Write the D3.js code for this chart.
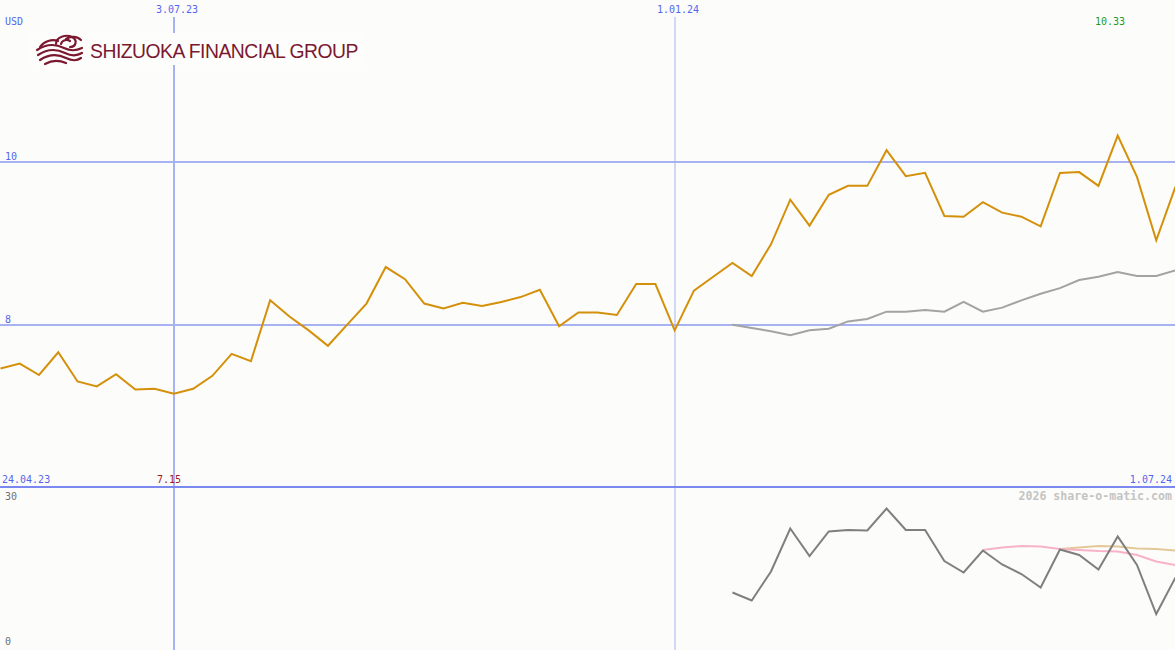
<!DOCTYPE html>
<html>
<head>
<meta charset="utf-8">
<script src="https://cdn.jsdelivr.net/npm/d3@7"></script>
<style>
html,body{margin:0;padding:0;background:#fcfdfa;}
svg{display:block;}
text.mono{font-family:"DejaVu Sans Mono",monospace;}
</style>
</head>
<body>
<svg id="c" width="1175" height="650"></svg>
<script>
// ---- data ----
const dates = [
"2023-05-01","2023-05-08","2023-05-15","2023-05-22","2023-05-29",
"2023-06-05","2023-06-12","2023-06-19","2023-06-26",
"2023-07-03","2023-07-10","2023-07-17","2023-07-24","2023-07-31",
"2023-08-07","2023-08-14","2023-08-21","2023-08-28",
"2023-09-04","2023-09-11","2023-09-18","2023-09-25",
"2023-10-02","2023-10-09","2023-10-16","2023-10-23","2023-10-30",
"2023-11-06","2023-11-13","2023-11-20","2023-11-27",
"2023-12-04","2023-12-11","2023-12-18","2023-12-25",
"2024-01-01","2024-01-08","2024-01-15","2024-01-22","2024-01-29",
"2024-02-05","2024-02-12","2024-02-19","2024-02-26",
"2024-03-04","2024-03-11","2024-03-18","2024-03-25",
"2024-04-01","2024-04-08","2024-04-15","2024-04-22","2024-04-29",
"2024-05-06","2024-05-13","2024-05-20","2024-05-27",
"2024-06-03","2024-06-10","2024-06-17","2024-06-24",
"2024-07-01"];

const price = [
7.46,7.52,7.38,7.66,7.30,7.24,7.39,7.20,7.21,7.15,
7.21,7.37,7.64,7.55,8.30,8.10,7.93,7.74,8.00,8.26,
8.71,8.56,8.26,8.20,8.27,8.23,8.28,8.34,8.43,7.98,
8.15,8.15,8.12,8.50,8.50,7.93,8.42,8.59,8.76,8.60,
8.99,9.54,9.22,9.60,9.71,9.71,10.15,9.83,9.87,9.34,
9.33,9.51,9.38,9.33,9.21,9.87,9.88,9.71,10.33,9.82,
9.04,9.70];

// moving average (starts at 2024-01-22)
const avgStart = 38;
const avg = [
8.00,7.96,7.92,7.87,7.93,7.95,8.04,8.07,8.16,8.16,
8.18,8.16,8.28,8.16,8.21,8.30,8.38,8.45,8.55,8.59,
8.65,8.60,8.60,8.67];

// lower panel indicator (starts at 2024-01-22)
const indStart = 38;
const indicator = [
11.5,9.9,15.7,24.3,18.8,23.7,24.0,23.9,28.3,24.0,
24.0,17.8,15.5,19.9,17.1,15.2,12.5,20.1,19.0,16.1,
22.7,17.0,7.2,14.5];

const pinkStart = 51;
const pinkLine = [20.0,20.5,20.8,20.7,20.2,20.0,19.8,19.7,19.0,17.7,17.0];

const tanStart = 55;
const tanLine = [20.2,20.5,20.8,20.7,20.3,20.2,19.9];

const priceTicks = [8, 10];
const indTicks = [0, 30];
const dateTicks = ["2023-07-03","2024-01-01"];
const dateTickLabels = ["3.07.23","1.01.24"];
const startLabel = "24.04.23";
const endLabel = "1.07.24";
const maxLabel = "10.33";
const minLabel = "7.15";
const currency = "USD";

// ---- drawing ----
const W = 1175, H = 650;
const svg = d3.select("#c");
const parse = d3.timeParse("%Y-%m-%d");
const dts = dates.map(parse);

const x = d3.scaleTime()
  .domain([parse("2023-05-01"), parse("2024-07-01")])
  .range([0.5, 1175.5]);
const y = d3.scaleLinear().domain([6, 12]).range([487, 0]);
const y2 = d3.scaleLinear().domain([0, 30]).range([650, 500]);

svg.append("rect").attr("width", W).attr("height", H).attr("fill", "#fcfdfa");

const blue = "#5566ee";
const gridC = "#a6b2f2";

function label(xx, yy, txt, color, anchor, size) {
  return svg.append("text").attr("class", "mono").attr("x", xx).attr("y", yy).attr("dy", "0.35em")
    .attr("text-anchor", anchor || "start").attr("fill", color).attr("font-size", size || 10).text(txt);
}

// horizontal grid lines (main)
priceTicks.forEach(t => {
  const yy = Math.round(y(t));
  svg.append("line").attr("x1", 0).attr("x2", W).attr("y1", yy).attr("y2", yy)
    .attr("stroke", gridC).attr("stroke-width", 2);
  label(5, yy - 6, t, blue);
});

// vertical date lines
dateTicks.forEach((d, i) => {
  const xx = Math.round(x(parse(d)));
  svg.append("line").attr("x1", xx).attr("x2", xx).attr("y1", 17).attr("y2", H)
    .attr("stroke", gridC).attr("stroke-width", i === 0 ? 2 : 1);
  label(xx + 3, 9.5, dateTickLabels[i], blue, "middle");
});

// separator between panels
svg.append("line").attr("x1", 0).attr("x2", W).attr("y1", 487).attr("y2", 487)
  .attr("stroke", "#7a88f0").attr("stroke-width", 2);

// logo
const logo = svg.append("g");
logo.append("rect").attr("x", 30).attr("y", 33).attr("width", 336).attr("height", 32).attr("fill", "#fdfefc");
const lc = "#7b1830";
const swirl = [
  "M37,50 C46,44 56,44 64,48 C70,51 76,51 82,48",
  "M38,55 C47,49 57,49 65,53 C71,56 77,56 82,53",
  "M40,60 C49,54 58,54 66,58 C72,61 77,61 81,58",
  "M45,64 C52,60 59,60 66,63",
  "M56,44 C56,37 66,34 72,37 C78,40 76,47 70,47",
  "M61,44 C62,40 67,39 70,41",
  "M66,39 C70,36 77,36 81,40",
  "M40,47 C44,41 52,39 58,41"
];
swirl.forEach(p => logo.append("path").attr("d", p).attr("fill", "none")
  .attr("stroke", lc).attr("stroke-width", 2.2).attr("stroke-linecap", "round"));
logo.append("text").attr("x", 90).attr("y", 57.5)
  .style("font-family", "'Liberation Sans', Arial, sans-serif")
  .attr("font-size", 19.5).attr("fill", lc).attr("letter-spacing", -0.5)
  .attr("textLength", 268).attr("lengthAdjust", "spacingAndGlyphs")
  .text("SHIZUOKA FINANCIAL GROUP");

// labels
label(5, 21, currency, blue);
label(1110, 21, maxLabel, "#1f9a1f", "middle");
label(2, 479, startLabel, blue);
label(1172, 479, endLabel, blue, "end");
label(169, 479, minLabel, "#a01c1c", "middle");
label(1172, 496, "2026 share-o-matic.com", "#c4c4c4", "end", 11.6).attr("font-weight", "bold");

indTicks.forEach(t => {
  label(5, t === 30 ? 496 : 641.5, t, "#707070");
});

// series
const lineMain = d3.line().x(d => x(d[0])).y(d => y(d[1]));
const lineInd = d3.line().x(d => x(d[0])).y(d => y2(d[1]));

svg.append("path").datum(avg.map((v, i) => [dts[avgStart + i], v]))
  .attr("d", lineMain).attr("fill", "none").attr("stroke", "#a3a3a3").attr("stroke-width", 2);
svg.append("path").datum(price.map((v, i) => [dts[i], v]))
  .attr("d", lineMain).attr("fill", "none").attr("stroke", "#d4900a").attr("stroke-width", 2);

svg.append("path").datum(tanLine.map((v, i) => [dts[tanStart + i], v]))
  .attr("d", lineInd).attr("fill", "none").attr("stroke", "#e4c898").attr("stroke-width", 2);
svg.append("path").datum(pinkLine.map((v, i) => [dts[pinkStart + i], v]))
  .attr("d", lineInd).attr("fill", "none").attr("stroke", "#f8b2c8").attr("stroke-width", 2);
svg.append("path").datum(indicator.map((v, i) => [dts[indStart + i], v]))
  .attr("d", lineInd).attr("fill", "none").attr("stroke", "#7f7f7f").attr("stroke-width", 2);
</script>
</body>
</html>
